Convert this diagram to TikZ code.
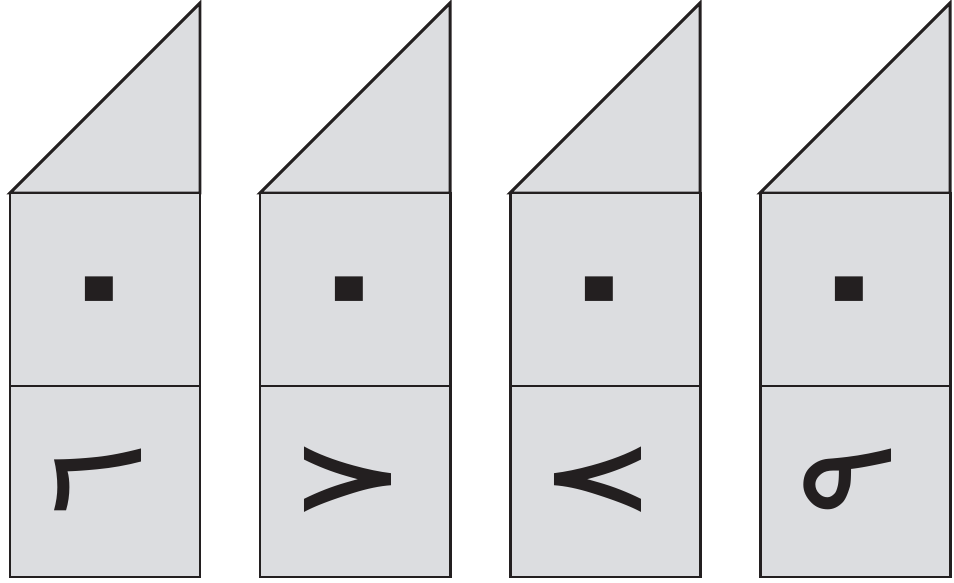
\documentclass[tikz,border=0pt]{standalone}
\usepackage{fontspec}
\newfontfamily\arabicfont[Script=Arabic]{DejaVu Sans}
\TeXXeTstate=1
\definecolor{panel}{RGB}{220,221,224}
\definecolor{ink}{RGB}{35,31,32}
\tikzset{
  cell/.style={draw=ink, fill=panel, line width=1.7pt},
  digit/.style={text=ink, inner sep=0pt, rotate=90,
    font=\arabicfont\fontsize{78}{78}\selectfont},
  dotdigit/.style={digit, font=\arabicfont\fontsize{130}{130}\selectfont},
}
\begin{document}
\begin{tikzpicture}[x=0.2mm, y=-0.2mm]
  \useasboundingbox (0,0) rectangle (954,583);
  \foreach \i/\d in {0/٦, 1/٧, 2/٨, 3/٩} {
    \pgfmathsetmacro\xl{10+250*\i}
    \coordinate (top\i) at (\xl+190, 3);
    \coordinate (nw\i) at (\xl, 193);
    \coordinate (ne\i) at (\xl+190, 193);
    \coordinate (mw\i) at (\xl, 386);
    \coordinate (me\i) at (\xl+190, 386);
    \coordinate (sw\i) at (\xl, 577);
    \coordinate (se\i) at (\xl+190, 577);
    % roof, middle cell, bottom cell
    \draw[cell] (nw\i) -- (top\i) -- (ne\i) -- cycle;
    \draw[cell] (nw\i) rectangle (me\i);
    \draw[cell] (mw\i) rectangle (se\i);
    \node[dotdigit] (zero\i) at (\xl+114, 289) {\beginR ٠\endR};
    \node[digit] (unit\i) at (\xl+88, 480) {\beginR \d\endR};
  }
\end{tikzpicture}
\end{document}
